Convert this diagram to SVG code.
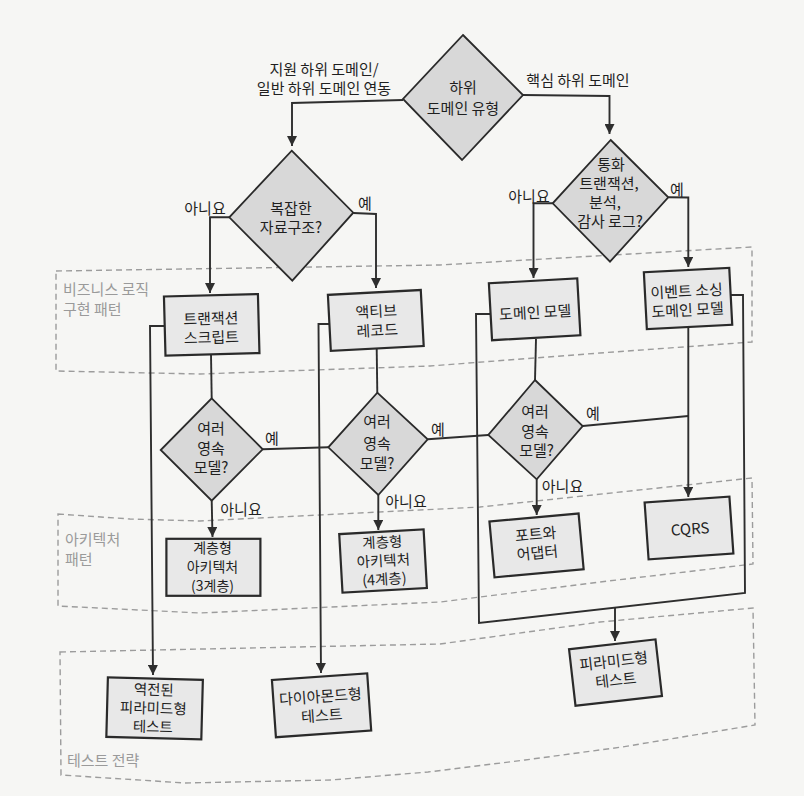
<svg xmlns="http://www.w3.org/2000/svg" width="804" height="796" viewBox="0 0 804 796">
<defs>
<style>
text{font-family:"Noto Sans CJK KR","Noto Sans",sans-serif;font-size:15px;fill:#1f1f1f}
.c{text-anchor:middle}
.s{font-size:14.5px}
.t{font-size:14px}
.rl{fill:#9a9a9a}
.box{fill:#e8e8e8;stroke:#2a2a2a;stroke-width:2.2}
.dia{fill:#d8d8d8;stroke:#2a2a2a;stroke-width:1.8}
.reg{fill:none;stroke:#9c9c9c;stroke-width:1.4;stroke-dasharray:6 4}
.ln{fill:none;stroke:#2e2e2e;stroke-width:1.9}
.ar{marker-end:url(#ah)}
</style>
<marker id="ah" viewBox="0 0 10 10" refX="10" refY="5" markerWidth="10" markerHeight="10" markerUnits="userSpaceOnUse" orient="auto">
<path d="M0,0 L10,5 L0,10 z" fill="#2e2e2e"/>
</marker>
</defs>
<rect width="804" height="796" fill="#f6f6f4"/>

<g id="regions">
<g id="region-business">
<path class="reg" d="M56,271 L440,265 L630,254 L752,247 L752,342 L600,353 L430,366 L200,374 L56,371 Z"/>
<text class="rl" x="63" y="295">비즈니스 로직</text>
<text class="rl" x="63" y="315">구현 패턴</text>
</g>
<g id="region-architecture">
<path class="reg" d="M58,514 L130,519 L200,521 L480,507 L752,478 L753,564 L600,582 L440,602 L200,613 L58,606 Z"/>
<text class="rl" x="65" y="545">아키텍처</text>
<text class="rl" x="65" y="564.5">패턴</text>
</g>
<g id="region-test">
<path class="reg" d="M60,652 L440,644 L600,622 L753,608 L755,725 L622,747 L525,760 L428,772 L331,780 L185,783 L61,775 Z"/>
<text class="rl" x="67" y="765.5">테스트 전략</text>
</g>
</g>

<g id="connectors">
<path class="ln ar" d="M403,100 L292,103 L292,146"/>
<path class="ln ar" d="M523,95 L609.5,96 L609.5,134"/>
<path class="ln ar" d="M229.3,217.3 L210,217.3 L210,293"/>
<path class="ln ar" d="M353.3,213 L376,214 L376,288"/>
<path class="ln ar" d="M552.7,203.3 L533.5,203.3 L533.5,278"/>
<path class="ln ar" d="M668.3,197.3 L688.3,197.5 L688.3,267"/>
<path class="ln ar" d="M165,326 L150,326 L153,675"/>
<path class="ln" d="M211,354 L211.7,398.3"/>
<path class="ln ar" d="M329.5,324 L318.5,324 L321,673"/>
<path class="ln" d="M376.7,349 L377.3,392.7"/>
<path class="ln" d="M490,314 L476,314 L479,623 L745,593 L743,295 L731,295"/>
<path class="ln ar" d="M615,608 L615,641"/>
<path class="ln" d="M536,339 L535,380"/>
<path class="ln ar" d="M688.3,327 L688.3,497"/>
<path class="ln" d="M262.7,449.3 L328.3,447.3"/>
<path class="ln" d="M427.7,439.3 L488.3,435"/>
<path class="ln" d="M582.7,426 L688.3,416"/>
<path class="ln ar" d="M211.7,500.7 L212.5,537"/>
<path class="ln ar" d="M378.3,495 L378.3,530"/>
<path class="ln ar" d="M536.7,479.3 L536.7,515"/>
<text class="c" x="324" y="74.5">지원 하위 도메인/</text>
<text class="c" x="324" y="93.5">일반 하위 도메인 연동</text>
<text class="c" x="578" y="85.5">핵심 하위 도메인</text>
<text class="c" x="205" y="213.5">아니요</text>
<text class="c" x="365" y="208.6">예</text>
<text class="c" x="529" y="202">아니요</text>
<text class="c" x="677" y="195.3">예</text>
<text class="c" x="272" y="443.6">예</text>
<text class="c" x="438" y="434.6">예</text>
<text class="c" x="593" y="418.6">예</text>
<text class="c" x="241" y="514.6">아니요</text>
<text class="c" x="406" y="507">아니요</text>
<text class="c" x="562.5" y="492">아니요</text>
</g>

<g id="n-subdomain-type">
<polygon class="dia" points="463,35 523,95 462,160 403,99"/>
<text class="c" x="463" y="93.3">하위</text>
<text class="c" x="463" y="114.3">도메인 유형</text>
</g>
<g id="n-complex-data">
<polygon class="dia" points="291.7,150.7 353.3,212.7 292.3,280.7 229.3,217.3"/>
<text class="c" x="291" y="214">복잡한</text>
<text class="c" x="291" y="233">자료구조?</text>
</g>
<g id="n-money-audit">
<polygon class="dia" points="610.7,140 668.3,197.3 610,261.7 552.7,203.3"/>
<text class="c" x="611" y="169.5">통화</text>
<text class="c" x="609" y="188.5">트랜잭션,</text>
<text class="c" x="605" y="207.5">분석,</text>
<text class="c" x="610" y="226.5">감사 로그?</text>
</g>

<g id="n-transaction-script" transform="rotate(-1.5 211.7 324.8)">
<rect class="box" x="164.7" y="295.3" width="94" height="59"/>
<text class="c" x="211" y="324">트랜잭션</text>
<text class="c" x="211" y="343">스크립트</text>
</g>
<g id="n-active-record" transform="rotate(-3 375.8 320.4)">
<rect class="box" x="329.3" y="292.4" width="93" height="56"/>
<text class="c" x="376.7" y="317">액티브</text>
<text class="c" x="376.7" y="336">레코드</text>
</g>
<g id="n-domain-model" transform="rotate(-3.2 534.6 309.3)">
<rect class="box" x="490.4" y="280.8" width="88.5" height="57"/>
<text class="c" x="535" y="318">도메인 모델</text>
</g>
<g id="n-event-sourced" transform="rotate(-3 688 298.5)">
<rect class="box" x="645.3" y="270" width="85.5" height="57"/>
<text class="c" x="687" y="296.5">이벤트 소싱</text>
<text class="c" x="687" y="315.5">도메인 모델</text>
</g>

<g id="n-multi-persist-1">
<polygon class="dia" points="211.7,398.3 262.7,449.3 211.7,500.7 160.7,450"/>
<text class="c" x="211" y="433.6">여러</text>
<text class="c" x="211" y="453.6">영속</text>
<text class="c" x="211" y="473">모델?</text>
</g>
<g id="n-multi-persist-2">
<polygon class="dia" points="377.3,392.7 427.7,439.3 378.3,495 328.3,447.3"/>
<text class="c" x="377" y="427">여러</text>
<text class="c" x="377" y="448.6">영속</text>
<text class="c" x="377" y="469.3">모델?</text>
</g>
<g id="n-multi-persist-3">
<polygon class="dia" points="535,380 582.7,426 536.7,479.3 488.3,435"/>
<text class="c" x="535" y="417">여러</text>
<text class="c" x="535" y="436.5">영속</text>
<text class="c" x="536.5" y="456">모델?</text>
</g>

<g id="n-layered-3">
<rect class="box" x="166.4" y="538.8" width="94" height="57"/>
<text class="c t" x="212.5" y="553">계층형</text>
<text class="c t" x="212.5" y="572">아키텍처</text>
<text class="c t" x="212.5" y="591">(3계층)</text>
</g>
<g id="n-layered-4" transform="rotate(-3.2 383 561)">
<rect class="box" x="340.8" y="531.7" width="84.5" height="58.7"/>
<text class="c s" x="383.3" y="547.5">계층형</text>
<text class="c s" x="383.3" y="566">아키텍처</text>
<text class="c s" x="383.3" y="584.5">(4계층)</text>
</g>
<g id="n-ports-adapters" transform="rotate(-5.2 536.5 545.4)">
<rect class="box" x="491.8" y="517.4" width="89.5" height="56"/>
<text class="c" x="536.7" y="539.5">포트와</text>
<text class="c" x="536.7" y="558.5">어댑터</text>
</g>
<g id="n-cqrs" transform="rotate(-4 689 528)">
<rect class="box" x="646.5" y="499.5" width="85" height="57"/>
<text class="c" x="690" y="534.5">CQRS</text>
</g>

<g id="n-reverse-pyramid" transform="rotate(1.5 154.6 708.3)">
<rect class="box" x="107.1" y="678.6" width="95" height="59.5"/>
<text class="c s" x="153.3" y="695">역전된</text>
<text class="c s" x="153.3" y="713.5">피라미드형</text>
<text class="c s" x="153.3" y="732">테스트</text>
</g>
<g id="n-diamond-test" transform="rotate(-4 321.5 705.3)">
<rect class="box" x="273.8" y="676.7" width="95.5" height="57.3"/>
<text class="c" x="321" y="702">다이아몬드형</text>
<text class="c" x="321" y="721">테스트</text>
</g>
<g id="n-pyramid-test" transform="rotate(-6.5 615.5 672.6)">
<rect class="box" x="572" y="644.1" width="87" height="57"/>
<text class="c" x="615" y="666.5">피라미드형</text>
<text class="c" x="615" y="685.5">테스트</text>
</g>
</svg>
